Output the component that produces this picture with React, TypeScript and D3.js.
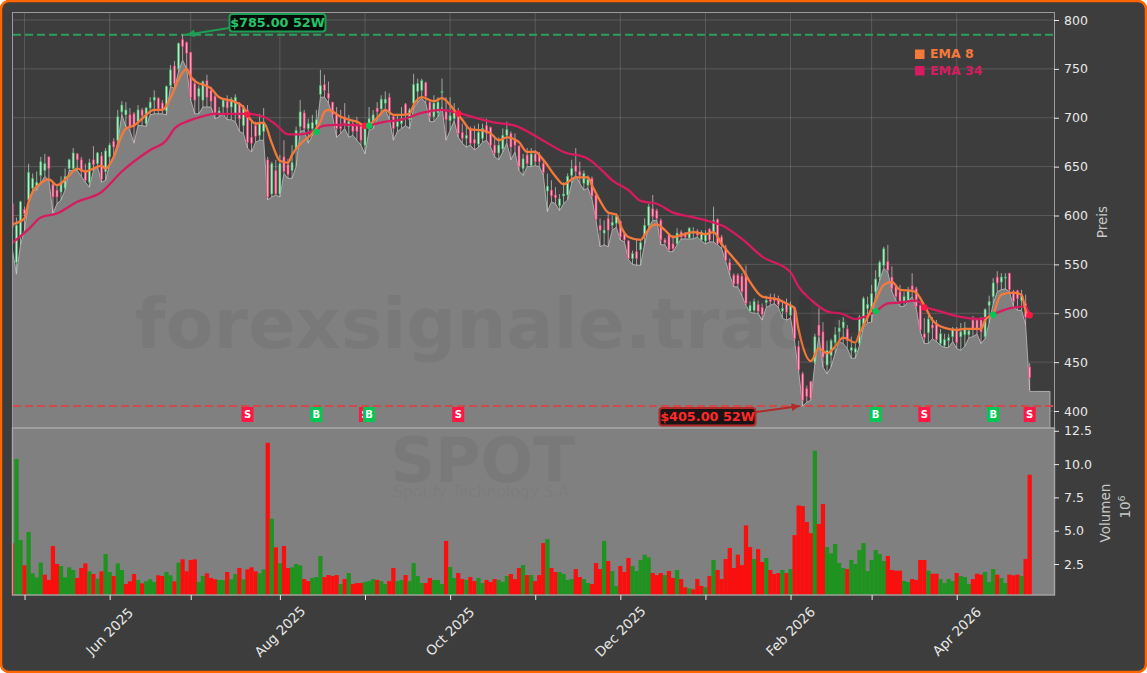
import React, { useEffect, useRef } from 'react';
import * as d3 from 'd3';

const opens = [612,552,578,606,616,628,630,641,646,660,632,626,624,628,648,648,663,657,645,634,657,653,661,645,660,676,677,706,703,703,704,696,708,694,710,718,720,715,707,733,753,750,780,777,767,735,722,718,738,728,722,704,711,717,711,703,715,692,708,680,692,682,686,657,622,646,622,660,652,646,667,691,705,689,689,693,724,734,725,716,703,691,701,691,694,692,692,672,690,694,710,709,715,721,701,691,694,714,698,715,727,728,736,716,701,705,726,706,697,699,704,685,679,689,678,673,679,692,690,672,664,668,682,684,678,671,648,662,651,663,662,653,625,626,621,610,620,621,641,651,645,633,631,638,621,590,582,597,590,592,594,581,574,556,563,565,580,590,607,605,595,575,580,571,571,583,581,577,582,584,575,574,586,582,596,578,567,552,539,539,538,540,502,503,509,506,511,514,516,515,502,509,498,506,466,438,423,430,450,488,481,447,457,470,481,485,484,462,460,469,488,505,505,522,537,549,553,537,527,522,511,513,528,525,508,479,480,488,489,469,467,472,476,484,476,478,478,493,493,495,476,508,517,537,532,536,541,522,523,513,510,445];
const highs = [628,598,615,609,653,643,645,660,663,660,634,631,640,648,658,669,664,660,653,658,671,665,665,669,674,679,708,717,716,710,706,713,710,711,721,728,721,718,733,754,758,777,785,778,767,740,733,738,744,732,725,711,720,723,721,724,716,713,713,698,696,704,710,660,655,657,662,677,658,672,691,718,708,699,703,708,749,744,737,716,711,708,715,703,698,701,692,694,711,708,716,723,727,725,703,704,711,715,710,745,740,740,737,718,723,721,740,721,721,715,710,694,692,691,692,694,694,699,691,680,680,689,696,686,684,672,663,669,669,667,665,657,643,636,629,622,634,643,657,669,655,646,641,640,621,597,595,602,600,602,595,583,575,564,575,576,597,612,621,607,597,577,582,580,587,585,583,588,588,586,585,585,587,609,597,580,570,556,541,541,541,549,512,515,513,510,518,520,520,518,513,515,512,507,472,440,426,431,479,505,491,472,474,486,493,496,488,476,469,498,517,517,529,544,554,568,570,548,529,529,522,527,541,527,509,495,498,496,493,484,479,479,486,486,490,491,484,497,493,496,505,518,536,543,541,541,541,524,524,524,519,449];
const lows = [565,540,570,585,614,626,626,633,640,636,602,612,616,626,646,646,646,640,634,629,646,650,634,636,653,660,675,703,691,687,674,692,692,691,703,704,704,704,703,732,730,747,759,750,718,704,704,711,711,711,699,701,704,698,698,696,686,684,669,665,675,677,677,616,619,621,619,643,638,638,650,686,687,674,682,686,721,721,715,701,680,684,689,680,682,677,672,663,687,689,699,704,708,699,677,686,689,692,689,710,716,720,715,696,696,701,711,677,687,697,680,674,670,672,667,670,675,677,670,660,657,665,674,657,665,646,641,650,650,651,650,641,604,614,612,605,612,616,633,641,633,626,628,617,595,568,570,568,585,588,575,573,555,550,549,549,571,588,595,595,570,570,563,563,570,576,576,576,576,578,574,571,573,573,570,566,553,539,527,527,518,508,501,500,500,493,506,508,510,506,495,493,495,471,440,405,409,411,448,476,445,438,445,459,471,469,464,454,454,467,486,490,491,519,534,546,542,522,513,507,507,512,517,505,481,469,469,474,471,467,465,465,471,464,462,466,475,476,479,469,474,490,510,522,524,525,522,507,503,503,488,421];
const closes = [588,590,614,602,644,638,634,655,653,648,619,619,634,640,657,664,657,645,636,654,652,664,637,666,672,670,701,713,708,691,691,708,702,710,716,721,709,708,732,749,735,776,773,766,721,718,730,737,721,717,705,707,718,710,719,721,699,710,675,674,681,694,694,619,653,622,653,645,642,654,687,706,689,694,695,698,733,728,720,703,689,689,694,696,686,686,677,690,699,703,706,719,719,706,689,696,699,704,708,734,735,738,722,701,715,716,727,698,702,706,684,679,682,674,674,685,689,684,672,664,672,682,688,670,672,650,658,653,663,655,655,644,630,620,618,617,622,640,648,645,641,643,637,620,596,585,585,585,593,599,578,575,556,561,556,572,590,609,599,597,575,572,565,566,582,578,578,587,584,580,583,581,575,595,571,570,554,544,530,530,522,510,508,512,502,499,513,512,513,509,505,501,508,474,442,411,415,413,476,477,455,462,472,478,485,491,472,465,464,496,515,509,520,535,552,566,544,525,517,512,517,524,524,507,483,475,494,485,473,479,473,475,484,470,481,485,482,484,483,481,504,512,531,531,537,537,524,512,515,518,496,434];
const volumes = [4.05,10.38,4.3,2.4,4.9,1.8,1.5,2.6,1.7,1.3,3.85,2.5,2.35,1.5,2.25,2.05,1.45,2.2,2.55,1.95,1.75,1.4,1.95,3.25,1.9,1.6,2.55,2.05,1.0,1.2,1.75,1.3,1.05,1.2,1.35,1.15,1.65,1.6,1.9,1.65,1.2,2.6,2.85,1.95,2.8,2.85,1.15,1.6,1.8,1.45,1.35,1.3,1.3,1.9,1.35,1.75,2.2,1.35,2.1,2.25,1.95,1.8,2.1,11.6,5.9,3.75,2.55,3.85,2.2,2.25,2.5,2.4,1.37,1.22,1.45,1.52,3.1,1.52,1.67,1.6,1.67,0.99,1.37,1.82,1.0,1.07,1.07,1.15,1.22,1.37,1.3,1.22,1.0,1.22,2.2,1.22,1.3,1.67,1.22,2.57,1.6,1.07,1.07,1.45,1.3,1.3,1.0,4.23,2.27,1.45,1.82,1.37,1.3,1.52,1.22,1.45,1.07,1.3,1.15,1.37,1.3,1.15,1.6,1.75,1.37,2.2,2.42,1.67,1.67,1.22,1.67,4.07,4.37,2.2,1.9,1.9,1.75,1.3,1.37,2.12,1.52,1.37,1.07,1.0,2.57,2.12,4.23,2.72,1.97,0.85,2.35,1.9,2.95,2.35,1.97,2.8,3.2,3.0,1.82,1.67,1.82,1.67,1.97,1.45,2.05,1.37,0.75,0.67,0.6,1.37,0.85,0.75,1.6,2.8,2.05,1.37,2.87,3.7,2.2,3.2,2.42,5.4,3.77,2.87,3.62,2.65,2.95,2.05,1.75,1.82,2.05,1.82,2.12,4.67,6.9,6.85,5.65,4.82,11.0,5.5,7.0,3.77,3.3,4.0,2.57,2.2,2.12,2.8,2.5,3.55,4.07,1.97,2.8,3.55,3.25,2.72,3.1,2.05,2.0,2.0,1.23,1.15,1.37,1.3,2.8,2.8,2.0,1.77,1.77,1.37,1.07,1.37,1.23,1.82,1.6,1.52,1.0,1.37,1.77,1.7,1.9,1.15,2.12,1.7,1.45,1.07,1.7,1.65,1.7,1.6,2.87,9.2];
const volumeSides = ('rggrggggrr' + 'rrggggrrrg' + 'rgrggrggrr' + 'rgrgggrrgg' + 'rgrrrrggrr' + 'rggrggrgrr' + 'rggrgrgrrg' + 'ggrrgggrrr' + 'rgrgrrrggg' + 'rggrrggrgg' + 'ggrrgggrgg' + 'rrgrrggrrr' + 'gggrrrgrgr' + 'rrgrrggggr' + 'rggrrrgrgg' + 'rrrgggggrr' + 'rgrrgrrgrr' + 'rgrgrrrrrr' + 'rrrgrrgrrr' + 'grgrrrrrgr' + 'rgggggrggg' + 'ggggggrrrr' + 'ggrrrrgrrg' + 'gggrgggrrr' + 'gggrggrrrg' + 'rr').split('');

const ema8Days = [0,3,4,5,7,9,11,12,14,16,18,20,22,23,25,27,28,30,32,35,37,39,41,43,44,46,47,49,51,55,57,58,60,62,64,66,68,69,71,74,76,77,78,81,83,85,87,88,90,92,94,96,98,99,101,103,104,106,108,109,111,113,116,118,120,122,125,127,129,131,134,136,139,142,143,145,147,149,150,152,155,156,158,159,161,163,165,168,171,173,175,178,180,182,185,189,191,193,194,197,199,201,203,205,208,209,211,213,215,217,219,222,223,225,227,230,233,235,239,240,242,244,247,249,250,251];
const ema8Values = [591,597,614,624,633,637,631,633,641,648,645,648,651,648,660,682,689,692,699,708,708,720,739,750,742,735,734,730,721,716,711,703,694,695,674,656,654,662,673,684,696,706,708,701,698,696,692,693,700,708,703,703,704,713,721,718,717,720,713,708,698,688,687,684,677,680,675,665,665,657,640,632,639,639,631,615,603,601,590,578,575,580,590,591,585,578,580,583,581,583,571,556,546,532,517,514,510,505,483,451,464,459,466,475,470,479,496,513,529,532,524,523,521,508,493,485,483,484,484,493,500,519,521,519,503,497];
const ema34Days = [0,4,7,11,16,22,27,34,38,40,43,45,50,58,62,65,68,71,74,77,82,87,92,96,101,106,110,115,119,124,130,136,142,145,148,152,155,159,163,167,173,175,180,185,192,194,197,201,205,208,213,216,219,223,225,228,233,239,242,246,250,251];
const ema34Values = [572,586,598,602,614,624,645,667,677,689,696,699,704,704,701,693,683,683,686,692,693,692,696,698,705,708,705,699,695,692,679,665,658,648,636,626,615,612,603,599,593,590,576,558,542,527,514,502,499,494,502,510,511,513,507,503,497,494,499,505,507,498];

const tickDays = [3,24,44,66,87,108,129,150,171,192,212,233];
const tickLabels = ['','Jun 2025','','Aug 2025','','Oct 2025','','Dec 2025','','Feb 2026','','Apr 2026'];
const priceTicks = [400,450,500,550,600,650,700,750,800];
const volumeTicks = [2.5,5,7.5,10,12.5];

const signalDays = [58,75,87,88,110,213,225,242,251];
const signalSides = ['S','B','S','B','S','B','S','B','S'];
const signalPrices = [703.4,685.6,691.8,691.8,704.4,502.2,506,498.4,498];

const areaTailDays = [252,256];
const areaTailPrice = 420;
const high52 = 785;
const low52 = 405;

const W = 1147;
const H = 673;
const plot = { left: 13, right: 1054, top: 13, mid: 428, bottom: 595 };
const BG = '#3d3d3d';
const FONT = '"DejaVu Sans", sans-serif';
const UP = '#2fb562';
const DOWN = '#f0306e';

export default function App() {
  const svgRef = useRef<SVGSVGElement>(null);

  useEffect(() => {
    if (!svgRef.current) return;
    document.body.style.margin = '0';
    const svg = d3.select(svgRef.current);
    svg.selectAll('*').remove();

    const days = d3.range(opens.length);
    const x = d3.scaleLinear().domain([0, 257]).range([12.4, 1054]);
    const y = d3.scaleLinear().domain([400, 800]).range([411, 20]);
    const yVol = d3.scaleLinear().domain([0, 12.5]).range([597.3, 430.8]);
    const step = x(1) - x(0);

    const defs = svg.append('defs');
    defs.append('clipPath').attr('id', 'top-clip').append('rect')
      .attr('x', plot.left).attr('y', plot.top)
      .attr('width', plot.right - plot.left).attr('height', plot.mid - plot.top);
    defs.append('clipPath').attr('id', 'vol-clip').append('rect')
      .attr('x', plot.left).attr('y', plot.mid)
      .attr('width', plot.right - plot.left).attr('height', plot.bottom - plot.mid);

    // page frame
    svg.append('rect').attr('x', 1).attr('y', 1).attr('width', W - 2).attr('height', H - 2)
      .attr('rx', 8).attr('fill', BG).attr('stroke', '#ff6600').attr('stroke-width', 2.5);

    // panels
    svg.append('rect').attr('x', plot.left).attr('y', plot.mid)
      .attr('width', plot.right - plot.left).attr('height', plot.bottom - plot.mid)
      .attr('fill', '#808080');

    const top = svg.append('g').attr('clip-path', 'url(#top-clip)');

    // grid
    priceTicks.forEach(t => {
      top.append('line').attr('x1', plot.left).attr('x2', plot.right)
        .attr('y1', y(t)).attr('y2', y(t))
        .attr('stroke', '#fff').attr('stroke-opacity', 0.15);
    });
    tickDays.forEach(d => {
      top.append('line').attr('x1', x(d)).attr('x2', x(d))
        .attr('y1', plot.top).attr('y2', plot.mid)
        .attr('stroke', '#fff').attr('stroke-opacity', 0.15);
    });

    // low-price area
    const areaPts: [number, number][] = days.map(d => [d, lows[d]]);
    areaPts.push([251.05, areaTailPrice]);
    areaTailDays.forEach(d => areaPts.push([d, areaTailPrice]));
    const area = d3.area<[number, number]>()
      .x(d => x(d[0])).y0(plot.mid + 2).y1(d => y(d[1]));
    top.append('path').attr('d', area(areaPts)).attr('fill', '#808080');
    const areaEdge = d3.line<[number, number]>().x(d => x(d[0])).y(d => y(d[1]));
    top.append('path')
      .attr('d', `${areaEdge(areaPts)}V${plot.mid}`)
      .attr('fill', 'none').attr('stroke', '#b4b4b4').attr('stroke-width', 0.9);

    // 52 week levels
    top.append('line').attr('x1', plot.left).attr('x2', plot.right)
      .attr('y1', y(high52)).attr('y2', y(high52))
      .attr('stroke', '#2f9e5c').attr('stroke-width', 2).attr('stroke-dasharray', '8 4');
    top.append('line').attr('x1', plot.left).attr('x2', plot.right)
      .attr('y1', y(low52)).attr('y2', y(low52))
      .attr('stroke', '#cf4a48').attr('stroke-width', 2).attr('stroke-dasharray', '8 4');

    // candles
    days.forEach(d => {
      const up = closes[d] >= opens[d];
      const c = up ? UP : DOWN;
      top.append('line').attr('x1', x(d)).attr('x2', x(d))
        .attr('y1', y(highs[d])).attr('y2', y(lows[d]))
        .attr('stroke', up ? '#bcd8c2' : '#e6bcca').attr('stroke-width', 0.9).attr('stroke-opacity', 0.8);
      top.append('rect').attr('x', x(d) - 1).attr('width', 2)
        .attr('y', y(Math.max(opens[d], closes[d])))
        .attr('height', Math.max(1, Math.abs(y(opens[d]) - y(closes[d]))))
        .attr('fill', up ? '#c4e8cc' : '#f8a8c0')
        .attr('stroke', c).attr('stroke-width', 0.7).attr('stroke-opacity', 0.85);
    });

    // EMAs
    const line = d3.line<number>().curve(d3.curveMonotoneX);
    top.append('path')
      .attr('d', line.x(d => x(d)).y((_, i) => y(ema34Values[i]))(ema34Days))
      .attr('fill', 'none').attr('stroke', '#d81b60').attr('stroke-width', 2.3);
    top.append('path')
      .attr('d', line.x(d => x(d)).y((_, i) => y(ema8Values[i]))(ema8Days))
      .attr('fill', 'none').attr('stroke', '#f4793b').attr('stroke-width', 2.3);

    // crossing dots and signal tags
    signalDays.forEach((d, i) => {
      const buy = signalSides[i] === 'B';
      const col = buy ? '#00c853' : '#ff1744';
      top.append('circle').attr('cx', x(d)).attr('cy', y(signalPrices[i])).attr('r', 3.2).attr('fill', col);
      const g = top.append('g').attr('transform', `translate(${x(d)},${y(396.4)})`);
      g.append('rect').attr('x', -6).attr('y', -7.5).attr('width', 12).attr('height', 15).attr('fill', col);
      g.append('text').attr('text-anchor', 'middle').attr('y', 3.6)
        .attr('font-size', 10).attr('font-weight', 'bold').attr('font-family', FONT)
        .attr('fill', '#fff').text(signalSides[i]);
    });

    // volume
    const vol = svg.append('g').attr('clip-path', 'url(#vol-clip)');
    days.forEach(d => {
      vol.append('rect').attr('x', x(d) - step / 2 - 0.1).attr('width', step + 0.2)
        .attr('y', yVol(volumes[d])).attr('height', yVol(0) - yVol(volumes[d]))
        .attr('fill', volumeSides[d] === 'g' ? '#1f931f' : '#fa0f0f');
    });

    // watermark
    const mark = svg.append('g').attr('font-family', FONT).attr('fill', '#000').attr('fill-opacity', 0.055);
    mark.append('text').attr('x', 135).attr('y', 348).attr('font-size', 70).attr('font-weight', 'bold').text('forexsignale.trade');
    mark.append('text').attr('x', 483).attr('y', 482).attr('text-anchor', 'middle').attr('font-size', 62).attr('font-weight', 'bold').text('SPOT');
    mark.append('text').attr('x', 481).attr('y', 497).attr('text-anchor', 'middle').attr('font-size', 15.5).text('Spotify Technology S.A');

    // spines
    svg.append('rect').attr('x', plot.left - 0.5).attr('y', plot.top - 0.5)
      .attr('width', plot.right - plot.left + 1).attr('height', plot.mid - plot.top + 0.5)
      .attr('fill', 'none').attr('stroke', '#9b9b9b').attr('stroke-width', 1);
    svg.append('rect').attr('x', plot.left - 0.5).attr('y', plot.mid)
      .attr('width', plot.right - plot.left + 1).attr('height', plot.bottom - plot.mid)
      .attr('fill', 'none').attr('stroke', '#a6a6a6').attr('stroke-width', 1.4);

    // axes
    const styleAxis = (g: d3.Selection<SVGGElement, unknown, null, undefined>) => {
      g.select('.domain').remove();
      g.selectAll('line').attr('stroke', '#e8e8e8');
      g.selectAll('text').attr('fill', '#e8e8e8').attr('font-size', 12.5).attr('font-family', FONT);
    };
    svg.append<SVGGElement>('g').attr('transform', `translate(${plot.right},0)`)
      .call(d3.axisRight(y).tickValues(priceTicks).tickSize(5).tickPadding(5).tickFormat(d3.format('d')))
      .call(styleAxis);
    svg.append<SVGGElement>('g').attr('transform', `translate(${plot.right},0)`)
      .call(d3.axisRight(yVol).tickValues(volumeTicks).tickSize(5).tickPadding(5).tickFormat(d3.format('.1f')))
      .call(styleAxis);
    const xAxis = svg.append<SVGGElement>('g').attr('transform', `translate(0,${plot.bottom})`)
      .call(d3.axisBottom(x).tickValues(tickDays).tickSize(5)
        .tickFormat((_, i) => tickLabels[i]))
      .call(styleAxis);
    xAxis.selectAll('text')
      .attr('text-anchor', 'middle').attr('dy', 0).attr('y', 0)
      .attr('font-size', 13.5)
      .attr('transform', 'translate(0,37) rotate(-45)')
      .attr('dominant-baseline', 'middle');

    const axisLabel = (tx: number, ty: number, label: string) =>
      svg.append('text').attr('transform', `translate(${tx},${ty}) rotate(-90)`)
        .attr('text-anchor', 'middle').attr('font-size', 13.5).attr('font-family', FONT)
        .attr('fill', '#c8c8c8').text(label);
    axisLabel(1107, 222, 'Preis');
    axisLabel(1110, 513, 'Volumen');
    const exp = axisLabel(1130, 507, '10');
    exp.append('tspan').attr('dy', -5).attr('font-size', 9.5).text('6');

    // 52 week callouts
    const callout = (
      price: number, day: number, dx: number, boxX: number, boxY: number,
      label: string, text: string, edge: string, fill: string, startY: number, startX: number,
    ) => {
      const tipX = x(day) + dx;
      const tipY = y(price);
      const ang = Math.atan2(tipY - startY, tipX - startX);
      svg.append('line').attr('x1', startX).attr('y1', startY).attr('x2', tipX).attr('y2', tipY)
        .attr('stroke', edge).attr('stroke-width', 2);
      const head = d3.path();
      head.moveTo(tipX, tipY);
      head.lineTo(tipX - 9 * Math.cos(ang - 0.45), tipY - 9 * Math.sin(ang - 0.45));
      head.lineTo(tipX - 9 * Math.cos(ang + 0.45), tipY - 9 * Math.sin(ang + 0.45));
      head.closePath();
      svg.append('path').attr('d', head.toString()).attr('fill', edge);
      svg.append('rect').attr('x', boxX).attr('y', boxY).attr('width', 96).attr('height', 17.5).attr('rx', 3)
        .attr('fill', fill).attr('stroke', edge).attr('stroke-width', 2);
      svg.append('text').attr('x', boxX + 48).attr('y', boxY + 13.3).attr('text-anchor', 'middle')
        .attr('font-size', 12.8).attr('font-weight', 'bold').attr('font-family', FONT)
        .attr('fill', text).text(label);
    };
    callout(high52, 43, 0, 229.5, 14, `$${high52}.00 52W`, '#27c46c', '#1f9d55', '#050d08', 28, 229);
    callout(low52, 195, -3, 659.5, 408, `$${low52}.00 52W`, '#ff2a2a', '#b32a2a', '#1c1414', 412, 756);

    // legend
    const legend = svg.append('g').attr('font-family', FONT).attr('font-size', 12.5).attr('font-weight', 'bold');
    legend.append('rect').attr('x', 915).attr('y', 49.5).attr('width', 9.5).attr('height', 9.5).attr('fill', '#f4793b');
    legend.append('text').attr('x', 930).attr('y', 58).attr('fill', '#f4793b').text('EMA 8');
    legend.append('rect').attr('x', 915).attr('y', 66).attr('width', 9.5).attr('height', 9.5).attr('fill', '#d81b60');
    legend.append('text').attr('x', 930).attr('y', 74.5).attr('fill', '#d81b60').text('EMA 34');
  }, []);

  return <svg ref={svgRef} width={W} height={H} style={{ display: 'block', background: '#fff' }} />;
}
